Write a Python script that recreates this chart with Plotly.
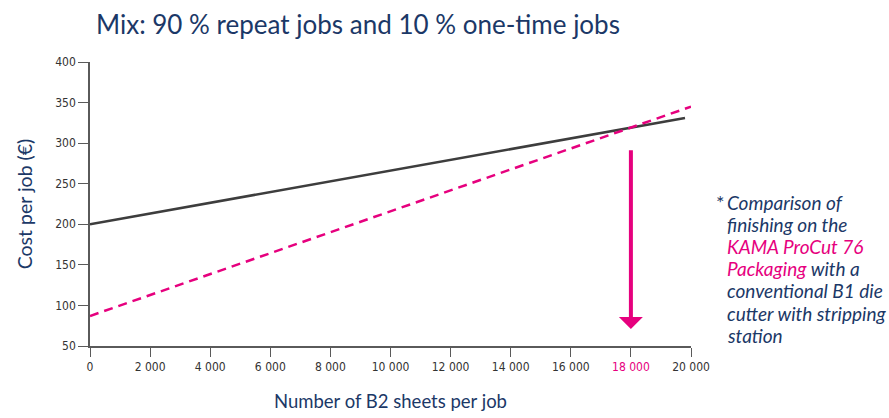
import plotly.graph_objects as go

# Data
sheets_solid = [0, 19800]
cost_solid = [200, 331]          # conventional B1 die cutter
sheets_dashed = [0, 20000]
cost_dashed = [87, 345]          # KAMA ProCut 76 Packaging
breakeven_x = 18000
arrow_from = 293
arrow_to = 71

x_ticks = [0, 2000, 4000, 6000, 8000, 10000, 12000, 14000, 16000, 18000, 20000]
x_ticktext = ["0", "2 000", "4 000", "6 000", "8 000", "10 000", "12 000", "14 000",
              "16 000", "<span style='color:#e6007e'>18 000</span>", "20 000"]
y_ticks = [50, 100, 150, 200, 250, 300, 350, 400]

note_lines = ["Comparison of", "finishing on the",
              "<span style='color:#e6007e'>KAMA ProCut 76</span>",
              "<span style='color:#e6007e'>Packaging</span> with a",
              "conventional B1 die", "cutter with stripping", "station"]

NAVY = "#1b3867"
MAGENTA = "#e6007e"
GREY = "#3d3d3d"
AXIS = "#5a5a5a"
TICKFONT = "DejaVu Sans Condensed, Liberation Sans Narrow, Arial Narrow, sans-serif"

W, H = 889, 418
L, R, T, B = 90, 198, 62, 72
pw, ph = W - L - R, H - T - B

def px(x):
    return (x - L) / pw

def py(y):
    return (H - B - y) / ph

fig = go.Figure()
fig.add_trace(go.Scatter(x=sheets_solid, y=cost_solid, mode="lines",
                         line=dict(color=GREY, width=2.5), showlegend=False, hoverinfo="skip"))
fig.add_trace(go.Scatter(x=sheets_dashed, y=cost_dashed, mode="lines",
                         line=dict(color=MAGENTA, width=2.5, dash="9px,6px"),
                         showlegend=False, hoverinfo="skip"))

fig.add_annotation(x=breakeven_x, y=arrow_to, ax=breakeven_x, ay=arrow_from,
                   xref="x", yref="y", axref="x", ayref="y", text="",
                   showarrow=True, arrowhead=1, arrowsize=1.0, arrowwidth=4,
                   arrowcolor=MAGENTA)

fig.add_annotation(x=px(715), y=py(202), xref="paper", yref="paper", text="*",
                   showarrow=False, font=dict(family="Lato", size=20, color=NAVY),
                   xanchor="left", yanchor="middle", borderpad=0)

for i, line in enumerate(note_lines):
    fig.add_annotation(x=px(726), y=py(202 + 22.2 * i), xref="paper", yref="paper",
                       text=f"<i>{line}</i>", showarrow=False, align="left",
                       xanchor="left", yanchor="middle", borderpad=0,
                       font=dict(family="Lato", size=19, color=NAVY))

fig.update_layout(
    width=W, height=H,
    margin=dict(l=L, r=R, t=T, b=B),
    paper_bgcolor="white", plot_bgcolor="white",
    title=dict(text="Mix: 90 % repeat jobs and 10 % one-time jobs",
               font=dict(family="Lato", size=26, color=NAVY),
               x=96/W, xanchor="left", xref="container",
               y=1-25/H, yanchor="middle"),
    xaxis=dict(range=[0, 20000], tickvals=x_ticks, ticktext=x_ticktext, automargin=False,
               showgrid=False, zeroline=False, showline=True, linecolor=AXIS, linewidth=1.5,
               ticks="outside", ticklen=9, tickwidth=1.2, tickcolor=AXIS,
               tickfont=dict(family=TICKFONT, size=12, color="#333333"),
               title=dict(text="Number of B2 sheets per job", standoff=22,
                          font=dict(family="Lato", size=18.5, color=NAVY))),
    yaxis=dict(range=[50, 400], tickvals=y_ticks, automargin=False,
               showgrid=False, zeroline=False, showline=True, linecolor=AXIS, linewidth=1.5,
               ticks="outside", ticklen=10, tickwidth=1.2, tickcolor=AXIS,
               tickfont=dict(family=TICKFONT, size=12, color="#333333"),
               title=dict(text="Cost per job (€)", standoff=17,
                          font=dict(family="Lato", size=19.5, color=NAVY))),
)

fig.write_html("out.html", config={"displayModeBar": False},
               post_script="document.body.style.margin='0px';document.body.style.padding='0px';")
